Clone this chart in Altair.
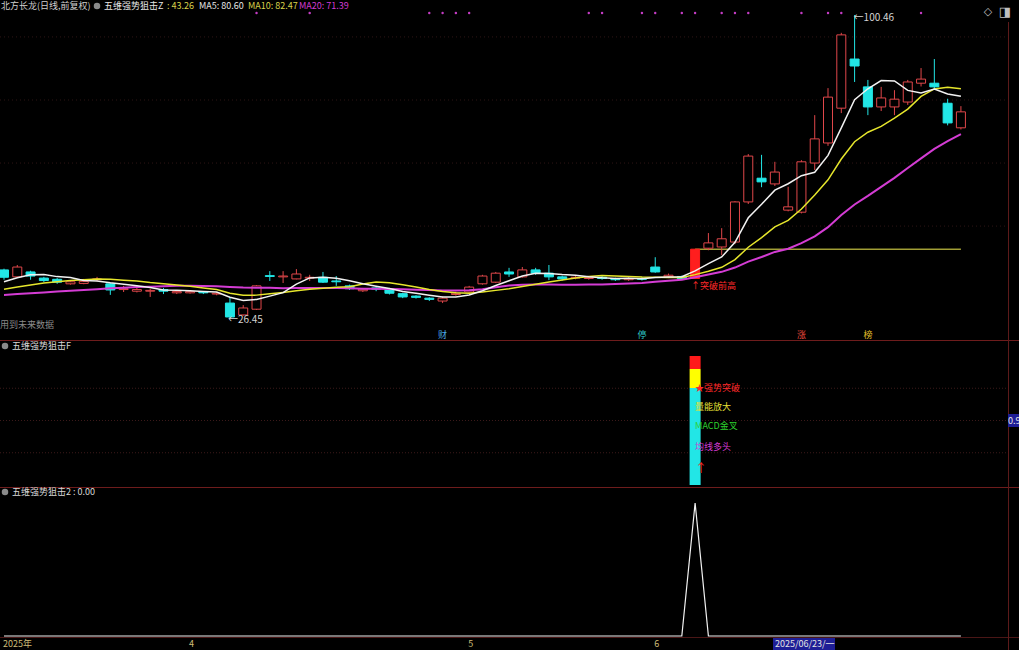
import altair as alt
import pandas as pd

FONT = "Noto Sans CJK SC"
W, H = 1019, 650

# ---------------- data ----------------
idx = list(range(73))
open_ = [38.2, 36.5, 37.7, 36.2, 35.9, 34.8, 34.9, 35.8, 34.8, 33.4,
         33.0, 33.0, 33.4, 32.6, 32.6, 32.8, 32.3, 30.1, 27.2, 28.6,
         36.8, 36.5, 36.0, 36.2, 36.4, 35.5, 34.3, 33.1, 33.8, 33.5,
         32.4, 31.8, 31.3, 30.6, 32.2, 32.8, 34.8, 35.2, 37.7, 36.5,
         38.2, 37.4, 36.5, 36.2, 36.1, 36.4, 36.0, 35.8, 36.1, 38.9,
         36.5, 36.6, 36.1, 43.5, 43.8, 45.0, 54.8, 60.6, 59.2, 52.8,
         52.3, 64.3, 69.2, 77.7, 89.7, 82.9, 78.0, 78.0, 79.2, 83.8,
         83.8, 78.9, 72.9]
high = [38.5, 39.4, 38.0, 36.5, 36.2, 35.5, 36.0, 36.5, 35.0, 34.3,
        33.8, 33.6, 33.8, 33.2, 33.2, 33.0, 32.8, 31.6, 29.6, 34.5,
        37.9, 37.9, 38.4, 37.0, 37.7, 36.7, 34.6, 33.8, 34.0, 33.8,
        32.6, 32.0, 31.5, 31.7, 32.9, 34.3, 37.0, 37.7, 38.7, 38.9,
        38.7, 39.4, 36.8, 36.7, 36.6, 36.7, 36.3, 36.4, 36.5, 41.3,
        37.3, 36.8, 43.26, 47.2, 48.4, 55.0, 66.5, 66.3, 64.6, 58.5,
        65.0, 76.0, 82.6, 96.1, 100.46, 84.6, 82.9, 82.1, 84.6, 87.5,
        89.7, 80.0, 78.2]
low = [35.8, 36.3, 35.8, 35.2, 34.8, 34.6, 34.7, 35.4, 32.1, 32.8,
       32.7, 31.6, 32.3, 32.3, 32.4, 32.3, 32.0, 26.45, 27.0, 28.4,
       35.5, 35.0, 35.9, 35.5, 35.0, 34.3, 33.3, 32.8, 33.0, 32.2,
       31.3, 31.2, 30.6, 30.1, 31.9, 32.6, 34.6, 35.0, 36.5, 36.3,
       37.0, 35.7, 35.6, 35.9, 35.8, 35.8, 35.5, 35.5, 35.6, 37.5,
       36.2, 35.8, 36.0, 43.0, 41.8, 44.5, 54.3, 58.4, 58.7, 52.5,
       52.0, 62.6, 68.5, 76.5, 84.1, 76.0, 77.0, 76.0, 78.5, 83.0,
       82.5, 73.5, 72.5]
close = [36.4, 38.9, 36.7, 35.6, 35.2, 35.3, 35.4, 36.0, 33.3, 33.6,
         33.4, 33.2, 33.0, 32.9, 32.9, 32.6, 32.5, 26.7, 28.9, 34.3,
         36.6, 36.7, 37.2, 36.4, 35.2, 35.3, 33.6, 33.5, 33.5, 32.5,
         31.6, 31.5, 31.0, 31.3, 32.5, 34.0, 36.7, 37.4, 37.2, 38.2,
         37.4, 36.5, 36.0, 36.4, 36.3, 36.1, 35.8, 36.1, 35.9, 37.7,
         36.9, 36.05, 43.26, 44.8, 45.8, 54.8, 66.0, 59.7, 62.1, 53.6,
         64.6, 70.2, 80.4, 95.6, 88.0, 78.0, 80.2, 79.9, 84.1, 84.8,
         82.9, 74.1, 76.8]
ma5 = [35.3, 36.3, 37.0, 37.1, 36.56, 36.34, 35.64, 35.5, 35.04, 34.72,
       34.34, 33.9, 33.3, 33.22, 33.08, 32.92, 32.78, 31.52, 30.72, 31.0,
       31.8, 32.64, 34.74, 36.24, 36.42, 36.16, 35.54, 34.8, 34.22, 33.68,
       32.94, 32.52, 32.02, 31.58, 31.58, 32.06, 33.1, 34.38, 35.56, 36.7,
       37.38, 37.34, 37.06, 36.9, 36.52, 36.26, 36.12, 36.14, 36.04, 36.32,
       36.48, 36.53, 37.96, 39.74, 41.36, 44.94, 50.93, 54.22, 57.68, 59.24,
       61.2, 62.04, 66.18, 72.88, 79.76, 82.44, 84.44, 84.34, 82.04, 81.4,
       82.38, 81.16, 80.6]
ma10 = [33.5, 34.0, 34.5, 35.0, 35.3, 35.6, 35.8, 36.0, 35.9, 35.7,
        35.5, 35.1, 34.8, 34.5, 34.2, 33.8, 33.4, 32.5, 32.0, 32.04,
        32.36, 32.71, 33.13, 33.48, 33.71, 33.98, 34.09, 34.77, 35.23, 35.05,
        34.55, 34.03, 33.41, 32.9, 32.63, 32.5, 32.81, 33.2, 33.57, 34.14,
        34.72, 35.22, 35.72, 36.23, 36.61, 36.82, 36.73, 36.6, 36.47, 36.42,
        36.37, 36.33, 37.05, 37.89, 38.84, 40.71, 43.73, 46.09, 48.71, 50.3,
        53.07, 56.49, 60.2, 65.28, 69.5, 71.82, 73.24, 75.26, 77.46, 80.58,
        82.41, 82.8, 82.47]
ma20 = [32.1, 32.3, 32.5, 32.7, 32.9, 33.1, 33.3, 33.5, 33.7, 33.85,
        34.0, 34.1, 34.2, 34.3, 34.3, 34.25, 34.2, 34.05, 33.9, 33.84,
        33.85, 33.74, 33.77, 33.81, 33.81, 33.81, 33.72, 33.59, 33.6, 33.55,
        33.46, 33.37, 33.27, 33.19, 33.17, 33.24, 33.45, 33.99, 34.4, 34.6,
        34.64, 34.63, 34.57, 34.57, 34.62, 34.66, 34.77, 34.9, 35.02, 35.28,
        35.55, 35.77, 36.39, 37.06, 37.73, 38.77, 40.23, 41.35, 42.59, 43.36,
        44.72, 46.41, 48.63, 51.59, 54.17, 56.27, 58.49, 60.68, 63.09, 65.44,
        67.74, 69.64, 71.39]
signal = [0, 0, 0, 0, 0, 0, 0, 0, 0, 0,
          0, 0, 0, 0, 0, 0, 0, 0, 0, 0,
          0, 0, 0, 0, 0, 0, 0, 0, 0, 0,
          0, 0, 0, 0, 0, 0, 0, 0, 0, 0,
          0, 0, 0, 0, 0, 0, 0, 0, 0, 0,
          0, 0, 1, 0, 0, 0, 0, 0, 0, 0,
          0, 0, 0, 0, 0, 0, 0, 0, 0, 0,
          0, 0, 0]
limit_days = [52]
z_value = 43.26
z_span = [52, 72]
low_mark = [17, 26.45]
high_mark = [64, 100.46]
dot_days = [19, 23, 32, 33, 34, 35, 44, 45, 48, 49, 51, 52, 54, 55, 56, 60, 62, 63, 69]
event_days = [33, 48, 60, 65]
event_text = ["财", "停", "涨", "榜"]
month_days = [0, 14, 35, 49]
month_text = ["2025年", "4", "5", "6"]
top_grid = [95.1, 79.7, 64.3, 48.9]
mid_grid = [0.25, 0.5, 0.75]
f_bounds = [0.0, 0.752, 0.899, 1.0]
f_labels = ["★强势突破", "量能放大", "MACD金叉", "均线多头", "↑"]
f_values = [0.752, 0.605, 0.457, 0.295, 0.124]

for arr in (open_, high, low, close, ma5, ma10, ma20, signal):
    assert len(arr) == len(idx), len(arr)

df = pd.DataFrame({"idx": idx, "open": open_, "high": high, "low": low, "close": close,
                   "ma5": ma5, "ma10": ma10, "ma20": ma20, "signal": signal})
df["kind"] = ["limit" if i in limit_days else ("up" if c >= o else "down")
              for i, o, c in zip(idx, open_, close)]

# ---------------- scales ----------------
X = alt.Scale(domain=[-0.301, 76.37], nice=False, zero=False, padding=0)
P = alt.Scale(domain=[21.08, 104.12], range=[340, 0], nice=False, zero=False, padding=0)
M = alt.Scale(domain=[-0.0155, 1.124], range=[487, 340], nice=False, zero=False, padding=0)
B = alt.Scale(domain=[0, 1], range=[636, 503], nice=False, zero=False, padding=0)
KINDS = ["up", "down", "limit"]
STROKE = alt.Scale(domain=KINDS, range=["#e0474a", "#22e6e6", "#ff1e1e"])
FILL = alt.Scale(domain=KINDS, range=["#000000", "#22e6e6", "#ff1e1e"])

RED, YEL, CYAN, MAG, WHITE = "#ff2a2a", "#e8e036", "#22e6e6", "#d43cd4", "#f2f2f2"


def xq(field="idx"):
    return alt.X(f"{field}:Q", scale=X, axis=None)


def yq(field, scale):
    return alt.Y(f"{field}:Q", scale=scale, axis=None)


def one():
    return pd.DataFrame({"a": [0]})


def vtext(t, x, y, color, size=9, align="left", font=FONT):
    return alt.Chart(pd.DataFrame({"t": [t]})).mark_text(
        align=align, baseline="middle", font=font, fontSize=size, color=color
    ).encode(x=alt.value(x), y=alt.value(y), text="t:N")


def itext(t, i, color, v=0.0, scale=None, ypix=None, size=9, align="left", dx=0, dy=0):
    d = pd.DataFrame({"t": [t], "i": [i], "v": [v]})
    yenc = yq("v", scale) if scale is not None else alt.value(ypix)
    return alt.Chart(d).mark_text(
        align=align, baseline="middle", font=FONT, fontSize=size, color=color, dx=dx, dy=dy
    ).encode(x=xq("i"), y=yenc, text="t:N")


def hline(y, color="#6e1c1c", x0=0, x1=W, width=1):
    return alt.Chart(one()).mark_rule(color=color, strokeWidth=width).encode(
        x=alt.value(x0), x2=alt.value(x1), y=alt.value(y))


def vrect(x0, x1, y0, y1, color):
    return alt.Chart(one()).mark_rect(color=color).encode(
        x=alt.value(x0), x2=alt.value(x1), y=alt.value(y0), y2=alt.value(y1))


def dot(x, y, color="#8a8a8a", size=42):
    return alt.Chart(one()).mark_circle(size=size, color=color, opacity=1).encode(
        x=alt.value(x), y=alt.value(y))


layers = []
base = alt.Chart(df)

# grid lines
layers.append(alt.Chart(pd.DataFrame({"v": top_grid})).mark_rule(
    color="#2e1515", strokeDash=[1, 3]).encode(y=yq("v", P), x=alt.value(0), x2=alt.value(1008)))
layers.append(alt.Chart(pd.DataFrame({"v": mid_grid})).mark_rule(
    color="#3c1a1a", strokeDash=[1, 2]).encode(y=yq("v", M), x=alt.value(0), x2=alt.value(1008)))

# panel separators / frame
layers.append(hline(340.5))
layers.append(hline(487.5))
layers.append(hline(637.5, color="#4a1616"))
layers.append(alt.Chart(one()).mark_rule(color="#5c1a1a").encode(
    x=alt.value(1008.5), y=alt.value(22), y2=alt.value(H)))

# ---------- top panel ----------
layers.append(alt.Chart(pd.DataFrame({"a": [z_span[0]], "b": [z_span[1]], "v": [z_value]})).mark_rule(
    color="#f0ec50", strokeWidth=1).encode(x=xq("a"), x2="b:Q", y=yq("v", P)))

layers.append(base.mark_rule(strokeWidth=1).encode(
    x=xq(), y=yq("low", P), y2="high:Q", stroke=alt.Stroke("kind:N", scale=STROKE, legend=None)))
layers.append(base.mark_bar(size=9, strokeWidth=1).encode(
    x=xq(), y=yq("open", P), y2="close:Q",
    fill=alt.Fill("kind:N", scale=FILL, legend=None),
    stroke=alt.Stroke("kind:N", scale=STROKE, legend=None)))

layers.append(base.mark_line(color=MAG, strokeWidth=2).encode(x=xq(), y=yq("ma20", P)))
layers.append(base.mark_line(color="#e6e62c", strokeWidth=1.5).encode(x=xq(), y=yq("ma10", P)))
layers.append(base.mark_line(color=WHITE, strokeWidth=1.5).encode(x=xq(), y=yq("ma5", P)))

layers.append(alt.Chart(pd.DataFrame({"d": dot_days})).mark_circle(
    size=6, color="#c43cc4", opacity=1).encode(x=xq("d"), y=alt.value(13)))

layers.append(itext("←" + format(low_mark[1], ".2f"), low_mark[0], "#d4d4d4",
                    v=low_mark[1], scale=P, size=10, dx=-2, dy=2))
layers.append(itext("←" + format(high_mark[1], ".2f"), high_mark[0], "#d4d4d4",
                    v=high_mark[1], scale=P, size=10, dx=-1, dy=3))
layers.append(itext("↑突破前高", limit_days[0], RED, ypix=286, size=9, dx=-4))

event_colors = ["#4aa8e6", "#2ec8c8", "#e8483c", "#e6c02a"]
for d, t, c in zip(event_days, event_text, event_colors):
    layers.append(itext(t, d, c, ypix=335, size=9, align="center"))

layers.append(vtext("用到未来数据", 0, 325, "#8a8a8a", size=9))

# header
layers.append(vtext("北方长龙(日线,前复权)", 1, 6, "#cfcfcf"))
layers.append(dot(97, 6))
layers.append(vtext("五维强势狙击Z", 104, 6, "#e6e6e6"))
layers.append(vtext(": 43.26", 167, 6, "#d8d24a"))
layers.append(vtext("MA5: 80.60", 199, 6, "#e6e6e6"))
layers.append(vtext("MA10: 82.47", 248, 6, "#d8d24a"))
layers.append(vtext("MA20: 71.39", 299, 6, "#d23cd2"))
layers.append(vtext("◇", 988, 12, "#c0c0c0", size=11, align="center", font="DejaVu Sans"))
layers.append(vtext("◨", 1005, 12, "#c0c0c0", size=13, align="center", font="DejaVu Sans"))

# ---------- middle panel ----------
seg_colors = [CYAN, "#ffff00", "#ff1a1a"]
for k, c in enumerate(seg_colors):
    layers.append(alt.Chart(pd.DataFrame({"i": limit_days, "lo": [f_bounds[k]], "hi": [f_bounds[k + 1]]}))
                  .mark_bar(size=11, color=c).encode(x=xq("i"), y=yq("lo", M), y2="hi:Q"))
f_colors = [RED, YEL, "#2ed12e", MAG, RED]
for t, v, c in zip(f_labels, f_values, f_colors):
    layers.append(itext(t, limit_days[0], c, v=v, scale=M, size=9 if t != "↑" else 12, dx=0))
layers.append(dot(5, 346))
layers.append(vtext("五维强势狙击F", 12, 346, "#d8d8d8"))
layers.append(vrect(1008, W, 414, 427, "#1e1e96"))
layers.append(vtext("0.9", 1008, 420.5, "#e8e8e8", size=9))

# ---------- bottom panel ----------
layers.append(base.mark_line(color=WHITE, strokeWidth=1.2).encode(x=xq(), y=yq("signal", B)))
layers.append(dot(5, 492))
layers.append(vtext("五维强势狙击2 : 0.00", 12, 492, "#d8d8d8"))

# x labels
for d, t in zip(month_days, month_text):
    layers.append(itext(t, d, "#cdbd78", ypix=644, size=9, dx=-1))
layers.append(vrect(773, 835, 638, 650, "#1e1e96"))
layers.append(vtext("2025/06/23/一", 775, 644, "#e4e4e4", size=9))

chart = alt.layer(*layers).resolve_scale(y="independent").properties(
    width=W, height=H, padding=0, background="#000000",
    autosize=alt.AutoSizeParams(type="none"),
).configure_view(strokeWidth=0)

chart.save("out.html", embed_options={"renderer": "svg", "actions": False,
                                      "defaultStyle": "body{margin:0;padding:0;background:#000;overflow:hidden}"})
